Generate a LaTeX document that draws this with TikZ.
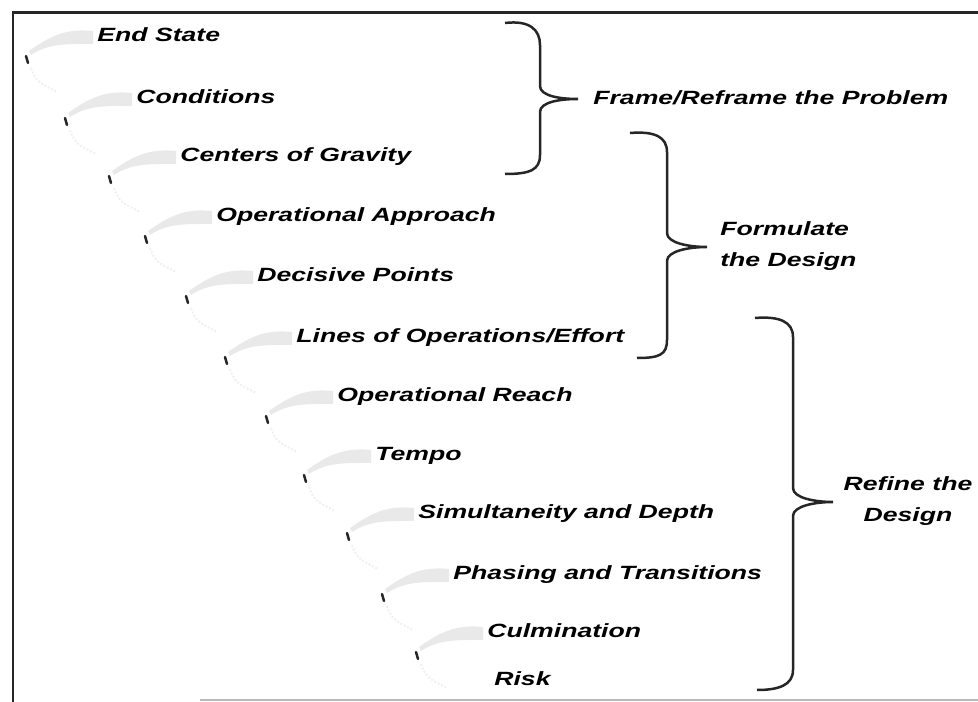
\documentclass[tikz,border=0pt]{standalone}
\usepackage{fontspec}
\setmainfont{Liberation Sans}[FakeStretch=1.39]
\usepackage{tikz}
\usetikzlibrary{calc}

\begin{document}
\begin{tikzpicture}[x=0.02cm, y=-0.02cm, font=\fontsize{10.9}{17.6}\selectfont\bfseries\itshape, item/.style = {anchor=west, inner sep=0pt, text height=0.27cm, text depth=0.07cm}, coil/.style = {fill=gray!17}, tick/.style = {line width=0.05cm, line cap=round, black!85}, trail/.style = {gray!12, line width=0.04cm, densely dotted}, brc/.style = {line width=0.05cm, black!85}, frm/.style = {line width=0.06cm, black!85}]
	\useasboundingbox (0,0) rectangle (978,702);
	% frame
	\draw[frm] (978,13) -- (13,13) -- (13,702);
	\draw[frm, gray!55] (200,700) -- (978,700);
	% steps
	\node[item] (es) at (97,37) {End State};
	\node[item] (co) at (136,99) {Conditions};
	\node[item] (cg) at (180,157) {Centers of Gravity};
	\node[item] (oa) at (216,217) {Operational Approach};
	\node[item] (dp) at (257,277) {Decisive Points};
	\node[item] (lo) at (296,338) {Lines of Operations/Effort};
	\node[item] (or) at (337,397) {Operational Reach};
	\node[item] (te) at (375,456) {Tempo};
	\node[item] (sd) at (418,514) {Simultaneity and Depth};
	\node[item] (pt) at (453,575) {Phasing and Transitions};
	\node[item] (cu) at (487,633) {Culmination};
	\node[item] (ri) at (494,681) {Risk};
	% coil
	\foreach \n in {es,co,cg,oa,dp,lo,or,te,sd,pt,cu} {
		\fill[coil] ($(\n.west)+(-4,-6)$) .. controls +(-28,-3) and +(20,-14) .. ($(\n.west)+(-68,14)$) -- ($(\n.west)+(-66,18)$) .. controls +(18,-12) and +(-25,0) .. ($(\n.west)+(-4,7)$) -- cycle;
		\draw[tick] ($(\n.west)+(-71,19)$) -- ($(\n.west)+(-69,26)$);
		\draw[trail] ($(\n.west)+(-66,31)$) .. controls +(5,15) and +(-15,-8) .. ($(\n.west)+(-40,55)$);
	}
	% braces
	\coordinate (ftop) at (505,23);
	\coordinate (ftip) at (578,99);
	\coordinate (fbot) at (505,174);
	\coordinate (mtop) at (630,133);
	\coordinate (mtip) at (707,247);
	\coordinate (mbot) at (637,358);
	\coordinate (rtop) at (755,318);
	\coordinate (rtip) at (833,502);
	\coordinate (rbot) at (757,690);
	\draw[brc] (ftop) .. controls +(25,-3) and +(0,-15) .. (540,45) -- (540,86) .. controls +(0,10) and +(-18,0) .. (ftip) .. controls +(-18,0) and +(0,-10) .. (540,112) -- (540,155) .. controls +(0,15) and +(25,0) .. (fbot);
	\draw[brc] (mtop) .. controls +(25,-2) and +(0,-15) .. (667,152) -- (667,233) .. controls +(0,10) and +(-18,0) .. (mtip) .. controls +(-18,0) and +(0,-10) .. (667,261) -- (667,340) .. controls +(0,15) and +(22,0) .. (mbot);
	\draw[brc] (rtop) .. controls +(25,-2) and +(0,-15) .. (793,337) -- (793,488) .. controls +(0,10) and +(-18,0) .. (rtip) .. controls +(-18,0) and +(0,-10) .. (793,516) -- (793,670) .. controls +(0,15) and +(22,0) .. (rbot);
	% stages
	\node[item] (frame) at (593,100) {Frame/Reframe the Problem};
	\node[anchor=west, inner sep=0pt, align=left] (form) at (720,246) {Formulate\\the Design};
	\node[inner sep=0pt, align=center] (refine) at (908,501) {Refine the\\Design};
\end{tikzpicture}
\end{document}
